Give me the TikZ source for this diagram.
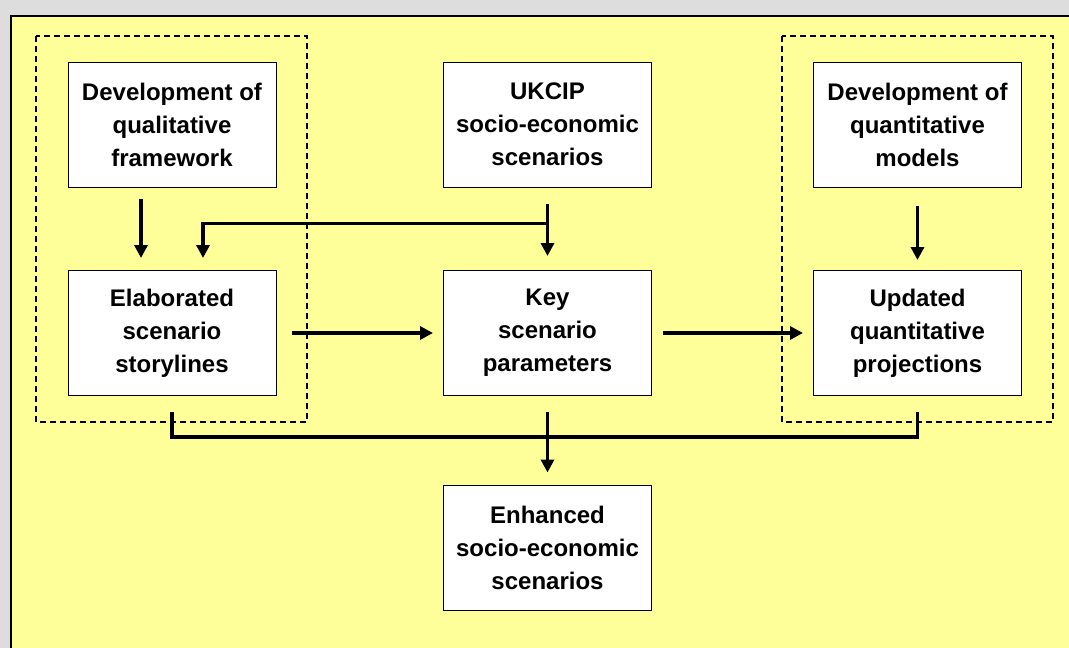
\documentclass[tikz,border=0pt]{standalone}
\usepackage{fontspec}
\setmainfont{Liberation Sans}
\usetikzlibrary{arrows.meta,calc}
\definecolor{bgGray}{HTML}{DDDDDD}
\definecolor{panelYellow}{HTML}{FFFF99}
\begin{document}
\begin{tikzpicture}[x=1pt,y=-1pt,
  box/.style={draw=black,line width=1pt,fill=white,minimum width=208pt,minimum height=125pt,
    align=center,inner sep=0pt,font=\fontsize{24}{33}\selectfont\bfseries},
  dashbox/.style={draw=black,line width=1.3pt,dash pattern=on 6pt off 4pt},
  conn/.style={line width=3.3pt},
  arr/.style={conn,-{Triangle[length=13pt,width=13pt]}}]
\useasboundingbox (0,0) rectangle (1069,648);
\fill[bgGray] (0,0) rectangle (1069,648);
\fill[panelYellow] (11,16) rectangle (1069,648);
\draw[line width=2pt] (11,648) -- (11,16) -- (1069,16);
\draw[dashbox] (36,36) rectangle (307,422);
\draw[dashbox] (782,36) rectangle (1053,422);
\node[box] (A) at (172,124.5) {Development of\\qualitative\\framework};
\node[box] (B) at (547.5,124.5) {UKCIP\\socio-economic\\scenarios};
\node[box] (C) at (917.5,124.5) {Development of\\quantitative\\models};
\node[box] (D) at (172,333) {Elaborated\\scenario\\storylines};
\node[box] (E) at (547.5,333) {Key\\scenario\\parameters};
\node[box] (F) at (917.5,333) {Updated\\quantitative\\projections};
\node[box] (G) at (547.5,547.5) {Enhanced\\socio-economic\\scenarios};
\draw[arr] ([xshift=-31pt,yshift=-11pt]A.south) -- ([xshift=-31pt,yshift=12pt]D.north);
\draw[arr] ([yshift=-16pt]B.south) -- ([yshift=14pt]E.north);
\draw[arr] ($(B.south)+(0,36)$) -| ([xshift=31pt,yshift=12pt]D.north);
\draw[arr] ([yshift=-18pt]C.south) -- ([yshift=10pt]F.north);
\draw[arr] ([xshift=15pt]D.east) -- ([xshift=-10pt]E.west);
\draw[arr] ([xshift=11pt]E.east) -- ([xshift=-10pt]F.west);
\draw[conn] ([yshift=-16pt]D.south) -- ++(0,25) -| ([yshift=-16pt]F.south);
\draw[arr] ([yshift=-16pt]E.south) -- ([yshift=12pt]G.north);
\end{tikzpicture}
\end{document}
